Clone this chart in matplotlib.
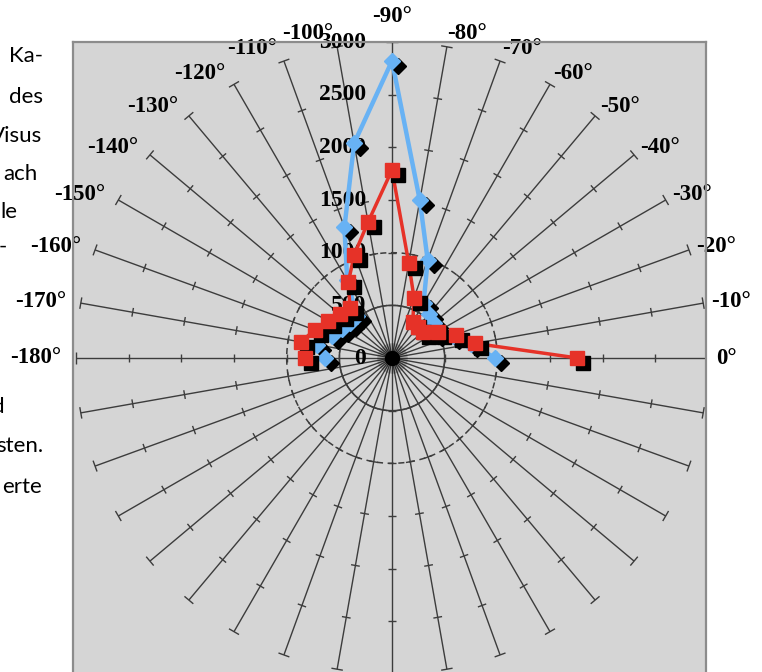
import numpy as np
import matplotlib.pyplot as plt
import matplotlib.transforms as mtransforms
from matplotlib.collections import LineCollection
from matplotlib.font_manager import FontProperties

# angle labels of the upper spokes (degrees)
angle_labels = [-180, -170, -160, -150, -140, -130, -120, -110, -100, -90,
                -80, -70, -60, -50, -40, -30, -20, -10, 0]
red_values = [830, 880, 780, 700, 650, 620, 830, 1045, 1310, 1785,
              915, 610, 395, 380, 385, 500, 650, 800, 1760]
blue_values = [640, 720, 605, 550, 515, 520, 850, 1320, 2070, 2820,
               1520, 990, 600, 550, 520, 480, 620, 760, 980]
r_ticks = [0, 500, 1000, 1500, 2000, 2500, 3000]
spoke_angles = list(range(0, 360, 10))

# bits of the page text left of the chart
side_words = ["Ka-", "des", "Visus", "ach", "le", "-", "d", "sten.", "erte"]
side_right = [43, 43, 42, 38, 17, 7, 5, 43, 42]
side_y = [56, 97, 136, 174, 212, 247, 407, 446, 487]

W, H = 762, 672
cx, cy = 392, 358
px_per_unit = 316 / 3000
u = 1 / px_per_unit  # data units per pixel

fig = plt.figure(figsize=(W / 100, H / 100), dpi=100)
ax = fig.add_axes([73 / W, 0, (706 - 73) / W, (672 - 42) / H])
ax.set_xlim(-(cx - 73) * u, (706 - cx) * u)
ax.set_ylim(-(H - cy) * u, (cy - 42) * u)
ax.set_facecolor("#d5d5d5")
ax.set_xticks([])
ax.set_yticks([])
for s in ax.spines.values():
    s.set_color("#8c8c8c")
    s.set_linewidth(1.6)
ax.spines["bottom"].set_visible(False)

grid_col = "#3c3c3c"
rmax = r_ticks[-1]

# spokes, tick marks and end caps
segs = []
for a in spoke_angles:
    t = np.radians(a)
    d = np.array([np.cos(t), np.sin(t)])
    p = np.array([-np.sin(t), np.cos(t)])
    segs.append([(0, 0), tuple(d * rmax)])
    for r in r_ticks[1:-1]:
        segs.append([tuple(d * r - p * 42), tuple(d * r + p * 42)])
    segs.append([tuple(d * rmax - p * 55), tuple(d * rmax + p * 55)])
ax.add_collection(LineCollection(segs, colors=grid_col, linewidths=1.0, zorder=1))

# inner circles
tt = np.linspace(0, 2 * np.pi, 400)
ax.plot(500 * np.cos(tt), 500 * np.sin(tt), color=grid_col, lw=1.1, zorder=1)
ax.plot(1000 * np.cos(tt), 1000 * np.sin(tt), color=grid_col, lw=1.1,
        ls=(0, (4, 3)), zorder=1)

# dark hub where the spokes meet
ax.plot([0], [0], marker="o", ms=22, color="black", alpha=0.18, mew=0, zorder=1)
ax.plot([0], [0], marker="o", ms=10, color="black", zorder=9)

# angle labels beyond the spoke ends
fp = FontProperties(family="Liberation Serif", weight="bold", size=16.5)
for lab in angle_labels:
    t = np.radians(-lab)
    c, s = np.cos(t), np.sin(t)
    end = (rmax * c, rmax * s)
    dy = 10 * s + 4 * s ** 4
    if c > 0.05:
        ha, dx = "left", 9 * c - 1
    elif c < -0.05:
        ha, dx = "right", 13 * c - 2
    else:
        ha, dx, dy = "center", 0, 25
    ax.annotate("%d°" % lab, xy=end, xytext=(dx, dy), textcoords="offset pixels",
                ha=ha, va="center", fontproperties=fp, annotation_clip=False,
                zorder=2)

# radial labels along the -90 spoke
fr = FontProperties(family="Liberation Serif", weight="bold", size=17)
for r in r_ticks:
    ax.annotate(str(r), xy=(0, r), xytext=(-26, 0), textcoords="offset pixels",
                ha="right", va="center", fontproperties=fr, zorder=2)

theta = np.radians(-np.array(angle_labels))
shadow = mtransforms.offset_copy(ax.transData, fig=fig, x=6, y=-5, units="dots")


def series(vals, color, marker, ms, lw, z):
    v = np.array(vals)
    x = v * np.cos(theta)
    y = v * np.sin(theta)
    ax.plot(x, y, color=color, lw=lw, zorder=z)
    ax.plot(x, y, ls="none", marker=marker, ms=ms, color="black",
            transform=shadow, zorder=z + 1)
    ax.plot(x, y, ls="none", marker=marker, ms=ms, color=color, zorder=z + 2)


series(blue_values, "#68b2f4", "D", 8, 3.2, 3)
series(red_values, "#e63228", "s", 10, 2.5, 6)

for word, xr, yy in zip(side_words, side_right, side_y):
    fig.text(xr / W, 1 - yy / H, word, ha="right", va="center",
             family="Lato", fontsize=16, color="black")

fig.savefig("out.png", dpi=100)
